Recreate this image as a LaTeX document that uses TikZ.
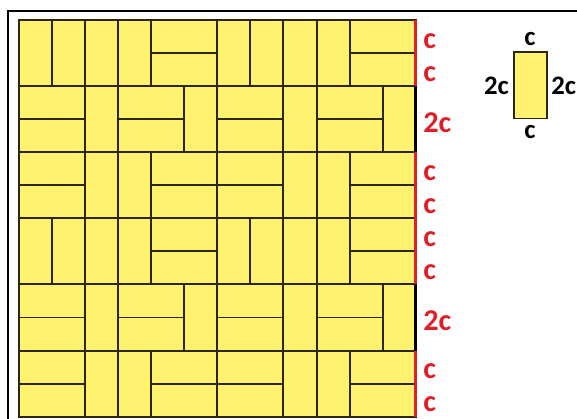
\documentclass[tikz,border=0pt]{standalone}
\usepackage{fontspec}
\setmainfont{Carlito}
\usepackage{xcolor}
\usetikzlibrary{positioning}
\definecolor{brick}{RGB}{255,242,110}
\definecolor{joint}{RGB}{45,38,18}
\definecolor{crimson}{RGB}{224,30,40}
\tikzset{%
    tile/.style={fill=brick, draw=joint, line width=1.7pt},
    redlab/.style={text=crimson, font=\fontsize{26}{30}\selectfont\bfseries, anchor=west, inner sep=1pt},
    blklab/.style={text=black, font=\fontsize{23}{27}\selectfont\bfseries, inner sep=2pt}
}

\begin{document}
\begin{tikzpicture}
    \useasboundingbox (-0.575,-0.07) rectangle (16.88,12.605);
    \clip (-0.575,-0.07) rectangle (16.88,12.605);
    \draw[line width=1.2pt] (-0.333,-1) -- (-0.333,12.272) -- (18,12.272);

    % band with four upright bricks
    \foreach \y in {4,10} {
        \foreach \x in {0,1,2,3,6,7,8,9} \draw[tile] (\x,\y) rectangle ++(1,2);
        \foreach \x in {4,10} {
            \draw[tile] (\x,\y) rectangle ++(2,1);
            \draw[tile] (\x,\y+1) rectangle ++(2,1);
        }
    }
    % band with single upright bricks
    \foreach \y in {2,8} {
        \foreach \x in {2,5,8,11} \draw[tile] (\x,\y) rectangle ++(1,2);
        \foreach \x in {0,3,6,9} {
            \draw[tile] (\x,\y) rectangle ++(2,1);
            \draw[tile] (\x,\y+1) rectangle ++(2,1);
        }
    }
    % band with paired upright bricks
    \foreach \y in {0,6} {
        \foreach \x in {2,3,8,9} \draw[tile] (\x,\y) rectangle ++(1,2);
        \foreach \x in {0,4,6,10} {
            \draw[tile] (\x,\y) rectangle ++(2,1);
            \draw[tile] (\x,\y+1) rectangle ++(2,1);
        }
    }

    % right edge
    \draw[crimson,line width=2.6pt] (12,12) -- (12,10);
    \draw[black,line width=2.6pt] (12,10) -- (12,8);
    \draw[crimson,line width=2.6pt] (12,8) -- (12,4);
    \draw[black,line width=2.6pt] (12,4) -- (12,2);
    \draw[crimson,line width=2.6pt] (12,2) -- (12,0);

    \foreach \y [count=\i] in {11.5,10.5,7.5,6.5,5.5,4.5,1.5,0.5}
        \node[redlab] (c\i) at (12.19,\y-0.13) {c};
    \node[redlab] (d1) at (12.19,9-0.1) {2c};
    \node[redlab] (d2) at (12.19,3-0.1) {2c};

    % one brick
    \node[tile, minimum width=1cm, minimum height=2cm, inner sep=0pt] (brick) at (15.46,10.02) {};
    \node[blklab, above=3pt of brick] (top) {c};
    \node[blklab, below=3pt of brick] (bot) {c};
    \node[blklab, left=1pt of brick] (lft) {2c};
    \node[blklab, right=1pt of brick] (rgt) {2c};
\end{tikzpicture}
\end{document}
